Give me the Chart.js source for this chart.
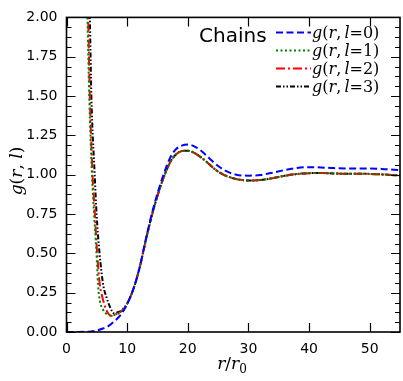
<!DOCTYPE html>
<html>
<head>
<meta charset="utf-8">
<script src="https://cdn.jsdelivr.net/npm/chart.js@4.4.0/dist/chart.umd.min.js"></script>
<style>
  html, body { margin: 0; padding: 0; background: #fff; }
  canvas { display: block; }
</style>
</head>
<body>
<canvas id="canvas" width="403" height="381"></canvas>
<script>
// values
var xTicks = [0, 10, 20, 30, 40, 50];
var yTicks = [0, 0.25, 0.5, 0.75, 1.0, 1.25, 1.5, 1.75, 2.0];

var r0 = [0, 2, 3, 4, 5, 6, 7, 8, 9, 10, 11, 12, 13, 14, 15, 16, 17, 18, 19, 20, 21, 22, 23, 24, 25, 26, 27, 28, 29, 30, 32, 34, 36, 38, 40, 42, 44, 46, 48, 50, 52, 54, 55];
var g0 = [0, 0, 0.001, 0.003, 0.01, 0.022, 0.04, 0.072, 0.112, 0.178, 0.27, 0.4, 0.575, 0.74, 0.88, 1.0, 1.1, 1.16, 1.185, 1.192, 1.182, 1.158, 1.125, 1.088, 1.055, 1.03, 1.012, 1.0, 0.995, 0.994, 0.998, 1.013, 1.03, 1.043, 1.048, 1.046, 1.042, 1.04, 1.04, 1.04, 1.037, 1.032, 1.03];

// shared tail of l = 1, 2, 3
var rTail = [10, 11, 12, 13, 14, 15, 16, 17, 18, 19, 20, 21, 22, 23, 24, 25, 26, 27, 28, 29, 30, 32, 34, 36, 38, 40, 42, 44, 46, 48, 50, 52, 54, 55];
var gTail = [0.18, 0.27, 0.4, 0.57, 0.73, 0.865, 0.98, 1.072, 1.127, 1.15, 1.153, 1.14, 1.115, 1.085, 1.05, 1.02, 0.998, 0.983, 0.972, 0.966, 0.963, 0.966, 0.978, 0.993, 1.004, 1.01, 1.011, 1.008, 1.006, 1.006, 1.005, 1.002, 0.997, 0.995];

var r1 = [3.2, 3.45, 3.75, 4.2, 4.55, 4.95, 5.2, 5.5, 6.05, 6.6, 7.2, 8.0, 9.0];
var g1 = [2.4, 2.0, 1.5, 1.0, 0.75, 0.5, 0.3, 0.2, 0.14, 0.115, 0.105, 0.11, 0.13];
var r2 = [3.3, 3.57, 3.85, 4.3, 4.68, 5.06, 5.5, 5.8, 6.3, 6.9, 7.4, 8.3, 9.3];
var g2 = [2.4, 2.0, 1.5, 1.0, 0.75, 0.5, 0.3, 0.24, 0.168, 0.116, 0.103, 0.116, 0.14];
var r3 = [3.6, 3.85, 4.1, 4.65, 4.96, 5.45, 6.05, 6.6, 7.2, 7.8, 8.5, 9.3];
var g3 = [2.4, 2.0, 1.5, 1.0, 0.75, 0.5, 0.3, 0.22, 0.157, 0.12, 0.126, 0.145];

var labels = ['0', '1', '2', '3'];
var colors = ['#0000ff', '#008000', '#ff0000', '#000000'];
var dashes = [[7, 3.5], [2, 2.5], [9, 3, 2, 3], [5, 2, 1.5, 2, 1.5, 2]];

function pts(xs, ys) {
  var out = [];
  for (var i = 0; i < xs.length; i++) out.push({x: xs[i], y: ys[i]});
  return out;
}
function withTail(xs, ys) {
  return pts(xs.concat(rTail), ys.concat(gTail));
}

var seriesData = [pts(r0, g0), withTail(r1, g1), withTail(r2, g2), withTail(r3, g3)];

var datasets = seriesData.map(function(d, i) {
  return {
    label: 'g(r, l=' + labels[i] + ')',
    data: d,
    borderColor: colors[i],
    borderDash: dashes[i],
    borderWidth: 2,
    pointRadius: 0,
    fill: false,
    cubicInterpolationMode: 'monotone'
  };
});

// draws mixed italic / upright pieces: [text, italic, scale, dy]
function drawMath(ctx, parts, x, y, size, align) {
  var total = 0;
  parts.forEach(function(p) {
    ctx.font = (p[1] ? 'italic ' : '') + Math.round(size * (p[2] || 1)) + 'px "DejaVu Serif"';
    total += ctx.measureText(p[0]).width;
  });
  var cx = align === 'center' ? x - total / 2 : x;
  ctx.textAlign = 'left';
  parts.forEach(function(p) {
    ctx.font = (p[1] ? 'italic ' : '') + Math.round(size * (p[2] || 1)) + 'px "DejaVu Serif"';
    ctx.fillText(p[0], cx, y + (p[3] || 0));
    cx += ctx.measureText(p[0]).width;
  });
}

var framePlugin = {
  id: 'frame',
  afterDraw: function(chart) {
    var ctx = chart.ctx, a = chart.chartArea;
    var xs = chart.scales.x, ys = chart.scales.y;
    ctx.save();
    ctx.strokeStyle = '#000';
    ctx.lineWidth = 1.2;
    ctx.beginPath();
    xTicks.forEach(function(v) {
      var px = Math.round(xs.getPixelForValue(v)) + 0.5;
      ctx.moveTo(px, a.bottom); ctx.lineTo(px, a.bottom - 9);
      ctx.moveTo(px, a.top); ctx.lineTo(px, a.top + 9);
    });
    for (var k = 0; k < yTicks.length - 1; k++) {
      for (var m = 0; m < 4; m++) {
        var v = yTicks[k] + m * (yTicks[k + 1] - yTicks[k]) / 4;
        var py = Math.round(ys.getPixelForValue(v)) + 0.5;
        var len = m === 0 ? 9 : 5;
        ctx.moveTo(a.left, py); ctx.lineTo(a.left + len, py);
        ctx.moveTo(a.right, py); ctx.lineTo(a.right - len, py);
      }
    }
    ctx.stroke();
    ctx.lineWidth = 1.6;
    ctx.strokeRect(a.left, a.top, a.right - a.left, a.bottom - a.top);

    // legend
    ctx.fillStyle = '#000';
    ctx.font = '20px "DejaVu Sans"';
    ctx.textAlign = 'left';
    ctx.textBaseline = 'alphabetic';
    ctx.fillText('Chains', 199, 42);
    var rows = [32.5, 50.5, 68.5, 86.5];
    chart.data.datasets.forEach(function(ds, i) {
      ctx.strokeStyle = ds.borderColor;
      ctx.lineWidth = 2;
      ctx.setLineDash(ds.borderDash);
      ctx.beginPath();
      ctx.moveTo(276, rows[i]); ctx.lineTo(311, rows[i]);
      ctx.stroke();
      ctx.setLineDash([]);
      ctx.textBaseline = 'middle';
      drawMath(ctx, [['g', true], ['(', false], ['r', true], [',\u2009', false], ['l', true], ['=', false], [labels[i], false], [')', false]], 312, rows[i] + 1, 16, 'left');
    });

    // axis titles
    ctx.textBaseline = 'alphabetic';
    drawMath(ctx, [['r', true], ['/', false], ['r', true], ['0', false, 0.7, 4]], 232, 369, 17, 'center');
    ctx.translate(22, 171);
    ctx.rotate(-Math.PI / 2);
    drawMath(ctx, [['g', true], ['(', false], ['r', true], [', ', false], ['l', true], [')', false]], 0, 0, 17, 'center');
    ctx.restore();
  }
};

var config = {
  type: 'line',
  data: { datasets: datasets },
  options: {
    responsive: false,
    animation: false,
    devicePixelRatio: 1,
    layout: { padding: { top: 10, right: 3, left: 0, bottom: 0 } },
    plugins: { legend: { display: false }, tooltip: { enabled: false } },
    scales: {
      x: {
        type: 'linear',
        min: 0,
        max: 55,
        grid: { display: false, drawTicks: false },
        border: { display: false },
        afterBuildTicks: function(s) { s.ticks = xTicks.map(function(v) { return {value: v}; }); },
        afterFit: function(s) { s.height = 49; },
        ticks: { color: '#000', font: { family: 'DejaVu Sans', size: 14 }, padding: 9, maxRotation: 0 }
      },
      y: {
        type: 'linear',
        min: 0,
        max: 2,
        grid: { display: false, drawTicks: false },
        border: { display: false },
        afterBuildTicks: function(s) { s.ticks = yTicks.map(function(v) { return {value: v}; }); },
        afterFit: function(s) { s.width = 66.5; },
        ticks: {
          color: '#000',
          font: { family: 'DejaVu Sans', size: 14 },
          padding: 9,
          callback: function(v) { return Number(v).toFixed(2); }
        }
      }
    }
  },
  plugins: [framePlugin]
};

window.myChart = new Chart(document.getElementById('canvas'), config);
</script>
</body>
</html>
